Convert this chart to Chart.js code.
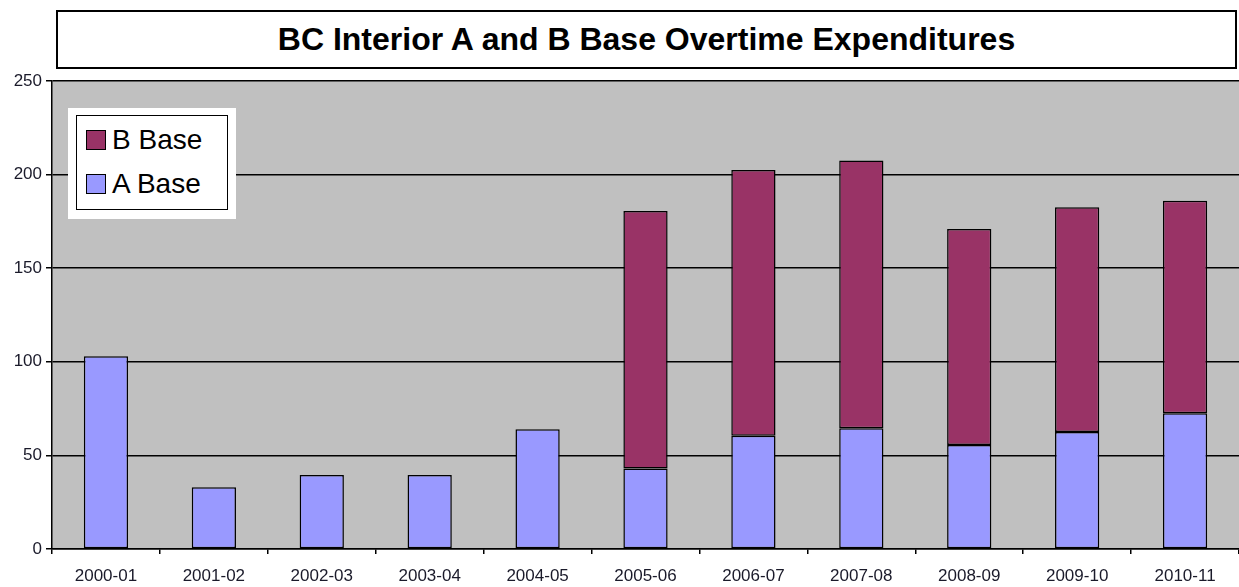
<!DOCTYPE html>
<html>
<head>
<meta charset="utf-8">
<script src="https://cdn.jsdelivr.net/npm/chart.js@4/dist/chart.umd.min.js"></script>
<style>
  html, body { margin: 0; padding: 0; background: #fff; }
  #wrap { position: relative; width: 1239px; height: 587px; overflow: hidden; }
  #chart { position: absolute; left: 0; top: 0; }
  .title-box {
    position: absolute; left: 56px; top: 10px; width: 1177px; height: 55px;
    border: 2px solid #000; background: #fff;
    font: bold 32px "Liberation Sans", Arial, sans-serif;
    display: flex; align-items: center; justify-content: center;
  }
  .legend-outer {
    position: absolute; left: 68px; top: 108px; width: 168px; height: 111px; background: #fff;
  }
  .legend-box {
    position: absolute; left: 8px; top: 7px; width: 152px; height: 95px;
    border: 1.5px solid #000; box-sizing: border-box;
    font: 28px "Liberation Sans", Arial, sans-serif; color: #000;
  }
  .legend-row { display: flex; align-items: center; height: 44px; padding-left: 9px; }
  .legend-row:first-child { margin-top: 2px; }
  .legend-dot { width: 20px; height: 20px; border: 1.5px solid #000; box-sizing: border-box; margin-right: 6px; }
</style>
</head>
<body>
<div id="wrap">
  <canvas id="chart" width="1239" height="587"></canvas>
  <div class="title-box">BC Interior A and B Base Overtime Expenditures</div>
  <div class="legend-outer"><div class="legend-box" id="legend"></div></div>
</div>
<script>
const categories = ['2000-01', '2001-02', '2002-03', '2003-04', '2004-05', '2005-06', '2006-07', '2007-08', '2008-09', '2009-10', '2010-11'];
const aBase = [103, 33, 39.5, 39.5, 64, 43, 60.5, 64.5, 55.5, 62.5, 72.5];
const bBase = [null, null, null, null, null, 137.5, 142, 143, 115.5, 120, 113.5];
const yTicks = [0, 50, 100, 150, 200, 250];

const colors = { a: '#9999ff', b: '#993366' };
const font = { family: '"Liberation Sans", Arial, sans-serif', size: 17 };

const plotBg = {
  id: 'plotBg',
  beforeDraw(chart) {
    const { ctx, chartArea } = chart;
    ctx.save();
    ctx.fillStyle = '#c0c0c0';
    ctx.fillRect(chartArea.left, chartArea.top, chartArea.right - chartArea.left, chartArea.bottom - chartArea.top);
    ctx.restore();
  },
};

new Chart(document.getElementById('chart'), {
  type: 'bar',
  data: {
    labels: categories,
    datasets: [
      { label: 'A Base', data: aBase, backgroundColor: colors.a, borderColor: '#000', borderWidth: 1.5, borderSkipped: false },
      { label: 'B Base', data: bBase, backgroundColor: colors.b, borderColor: '#000', borderWidth: 1.5, borderSkipped: false },
    ],
  },
  options: {
    responsive: false,
    animation: false,
    datasets: { bar: { categoryPercentage: 1, barPercentage: 0.41 } },
    layout: { padding: { top: 81, right: 0, left: 0, bottom: 0 } },
    plugins: { legend: { display: false }, title: { display: false }, tooltip: { enabled: false } },
    scales: {
      x: {
        stacked: true,
        afterFit(scale) { scale.height = 38; },
        grid: { offset: true, drawOnChartArea: false, color: '#000', lineWidth: 1.5, tickLength: 5 },
        border: { color: '#000', width: 1.5 },
        ticks: { color: '#1a1a2a', font, padding: 12, maxRotation: 0 },
      },
      y: {
        stacked: true,
        min: 0,
        max: 250,
        afterFit(scale) { scale.width = 52; },
        afterBuildTicks(scale) { scale.ticks = yTicks.map((v) => ({ value: v })); },
        grid: { color: '#000', lineWidth: 1.5, tickLength: 6 },
        border: { color: '#000', width: 1.5 },
        ticks: { color: '#1a1a2a', font, padding: 4 },
      },
    },
  },
  plugins: [plotBg],
});

const legendItems = [
  { label: 'B Base', color: colors.b },
  { label: 'A Base', color: colors.a },
];
document.getElementById('legend').innerHTML = legendItems
  .map((item) => `
    <div class="legend-row">
      <span class="legend-dot" style="background:${item.color}"></span>
      <span>${item.label}</span>
    </div>
  `)
  .join('');
</script>
</body>
</html>
